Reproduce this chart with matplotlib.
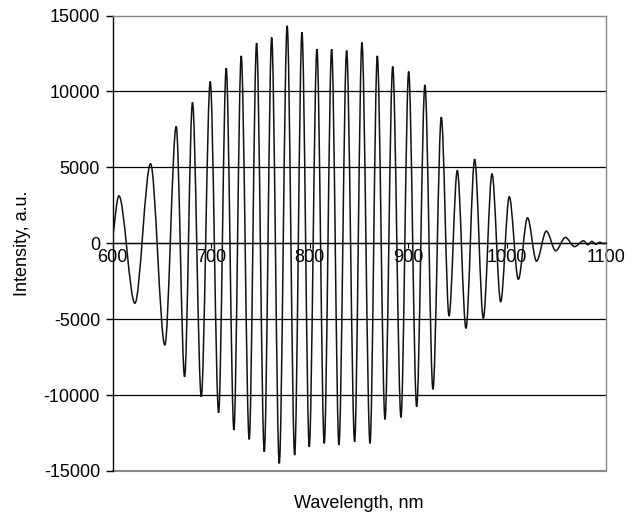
import matplotlib
matplotlib.use("Agg")
import matplotlib.pyplot as plt
from matplotlib.path import Path
from matplotlib.patches import PathPatch

# Extrema (and endpoints), wavelength in nm
wavelength = [600.0, 606.4, 622.6, 638.5, 653.0, 664.5, 673.0, 681.0, 689.9, 699.0,
              707.5, 715.2, 723.0, 730.4, 738.5, 746.0, 753.8, 761.3, 769.0, 777.0,
              784.6, 792.0, 799.4, 807.2, 814.6, 822.1, 829.5, 837.3, 845.4, 852.8,
              861.0, 868.4, 876.2, 884.0, 892.4, 900.2, 908.3, 916.7, 924.8, 933.3,
              941.1, 949.5, 958.3, 967.1, 975.9, 984.7, 993.5, 1002.2, 1011.4, 1020.7,
              1029.8, 1039.8, 1049.3, 1059.1, 1068.5, 1077.5, 1081.9, 1086.0, 1090.0,
              1094.0, 1098.0, 1100.0]
intensity = [330, 3120, -3950, 5230, -6700, 7690, -8790, 9270, -10110, 10650,
             -11160, 11530, -12300, 12340, -12920, 13180, -13730, 13550, -14500, 14320,
             -13950, 13900, -13400, 12780, -13180, 12780, -13290, 12690, -13070, 13220,
             -13180, 12340, -11600, 11640, -11470, 11310, -10770, 10430, -9620, 8300,
             -4790, 4790, -5600, 5530, -4940, 4570, -3850, 3070, -2370, 1680,
             -1180, 800, -490, 380, -220, 160, -100, 120, -60, 60, -30, 50]

y_ticks = [-15000, -10000, -5000, 0, 5000, 10000, 15000]
x_ticks = [600, 700, 800, 900, 1000, 1100]

plt.rcParams['font.family'] = ['Liberation Sans', 'DejaVu Sans']
FS = 13

fig = plt.figure(figsize=(6.29, 5.17), dpi=100)
ax = fig.add_axes([0.179, 0.089, 0.784, 0.881])

ax.set_xlim(600, 1100)
ax.set_ylim(-15000, 15000)

# horizontal gridlines
for yv in y_ticks[1:-1]:
    ax.axhline(yv, color='black', lw=0.9, zorder=1)

# smoothed line through the read points (like a spreadsheet "smoothed line")
verts = [(wavelength[0], intensity[0])]
codes = [Path.MOVETO]
n = len(wavelength)
for i in range(n - 1):
    xa, ya = wavelength[i], intensity[i]
    xb, yb = wavelength[i + 1], intensity[i + 1]
    dx = xb - xa
    if i == 0:
        c1 = (xa + dx / 3.0, ya + (yb - ya) / 3.0)
    else:
        c1 = (xa + dx / 3.0, ya)
    if i + 1 == n - 1:
        c2 = (xb - dx / 3.0, yb - (yb - ya) / 3.0)
    else:
        c2 = (xb - dx / 3.0, yb)
    verts += [c1, c2, (xb, yb)]
    codes += [Path.CURVE4, Path.CURVE4, Path.CURVE4]
ax.add_patch(PathPatch(Path(verts, codes), facecolor='none', edgecolor='#111111',
                       lw=1.1, zorder=3, transform=ax.transData))

for s in ['top', 'right']:
    ax.spines[s].set_color('#888888')
    ax.spines[s].set_linewidth(1.0)
ax.spines['left'].set_color('black')
ax.spines['left'].set_linewidth(1.0)
ax.spines['bottom'].set_position(('data', 0))
ax.spines['bottom'].set_color('black')
ax.spines['bottom'].set_linewidth(0.9)
ax.axhline(-15000, color='#888888', lw=1.5, clip_on=False, zorder=0)

ax.set_yticks(y_ticks)
ax.set_yticklabels([str(v) for v in y_ticks])
ax.set_xticks(x_ticks)
ax.set_xticklabels([str(v) for v in x_ticks])
ax.tick_params(axis='y', direction='out', length=5, width=1, labelsize=FS, pad=4)
ax.tick_params(axis='x', direction='out', length=3.5, width=0.8, labelsize=FS, pad=1)

ax.set_ylabel('Intensity, a.u.', fontsize=FS, labelpad=9)
fig.text(0.570, 0.027, 'Wavelength, nm', ha='center', va='center', fontsize=FS)

fig.savefig('out.png', dpi=100)
